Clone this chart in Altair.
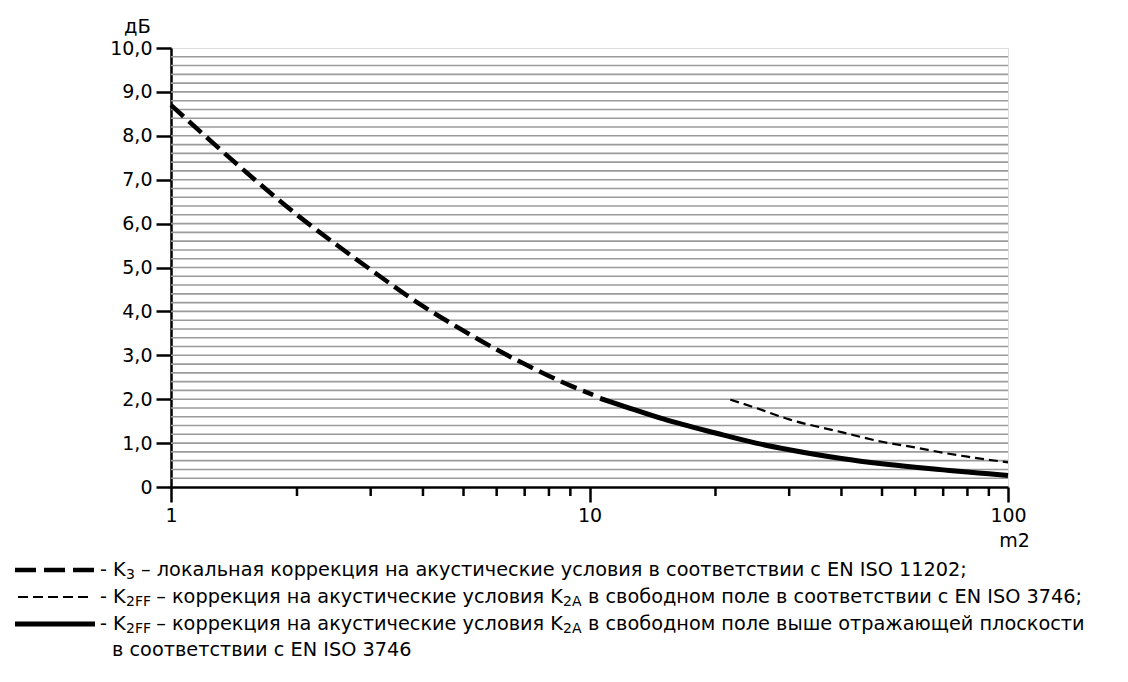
import altair as alt
import pandas as pd

# ---- data ----
# K3 (thick dashed)
k3_x = [1, 1.5, 2, 2.5, 3, 4, 5, 6, 7, 8, 9, 10.2]
k3_y = [8.70, 7.2, 6.2, 5.5, 4.95, 4.12, 3.56, 3.13, 2.8, 2.53, 2.31, 2.1]
# K2FF free field (thin dashed)
ff_x = [21.7, 25, 30, 40, 50, 60, 70, 80, 90, 100]
ff_y = [1.99, 1.80, 1.54, 1.25, 1.03, 0.90, 0.78, 0.69, 0.62, 0.56]
# K2FF above reflecting plane (solid)
rp_x = [10.6, 12, 15, 20, 25, 30, 40, 50, 60, 70, 80, 90, 100]
rp_y = [2.02, 1.85, 1.55, 1.23, 1.0, 0.85, 0.65, 0.53, 0.45, 0.39, 0.34, 0.30, 0.26]

y_ticks = [0, 1, 2, 3, 4, 5, 6, 7, 8, 9, 10]
grid_vals = [round(0.2 * i, 1) for i in range(1, 50)]
x_major = [1, 10, 100]
x_minor = [2, 3, 4, 5, 6, 7, 8, 9, 20, 30, 40, 50, 60, 70, 80, 90]

# legend text pieces: (text, is_subscript, page x, align)
legend_lines = [
    [("- K", False, 100, "left"), ("3", True, 126, "left"),
     ("– локальная коррекция на акустические условия в соответствии с EN ISO 11202;", False, 141, "left")],
    [("- K", False, 100, "left"), ("2FF", True, 126, "left"),
     ("– коррекция на акустические условия K", False, 563, "right"), ("2A", True, 563, "left"),
     ("в свободном поле в соответствии с EN ISO 3746;", False, 588, "left")],
    [("- K", False, 100, "left"), ("2FF", True, 126, "left"),
     ("– коррекция на акустические условия K", False, 563, "right"), ("2A", True, 563, "left"),
     ("в свободном поле выше отражающей плоскости", False, 588, "left")],
    [("в соответствии с EN ISO 3746", False, 112, "left")],
]

FONT = "DejaVu Sans"
W, H = 837, 439
OX, OY = 171, 48  # page position of plot origin

xscale = alt.Scale(type="log", domain=[1, 100])
yscale = alt.Scale(domain=[0, 10], nice=False)

grid_df = pd.DataFrame({"g": grid_vals})
grid = alt.Chart(grid_df).mark_rule(color="#9a9a9a", strokeWidth=1.6).encode(
    y=alt.Y("g:Q", scale=yscale,
            axis=alt.Axis(values=y_ticks, title="дБ", titleAngle=0, titleX=-34, titleY=-16,
                          titleAlign="center", titleBaseline="alphabetic", titleFont=FONT,
                          titleFontSize=19.5, titleFontWeight="normal", titleColor="black",
                          labelExpr="datum.value == 0 ? '0' : replace(format(datum.value, '.1f'), '.', ',')",
                          labelFont=FONT, labelFontSize=19, labelColor="black", labelPadding=4,
                          tickSize=15, tickWidth=2.5, tickColor="black", domainColor="black",
                          domainWidth=2.5, grid=False)),
)

k3_df = pd.DataFrame({"x": k3_x, "y": k3_y})
ff_df = pd.DataFrame({"x": ff_x, "y": ff_y})
rp_df = pd.DataFrame({"x": rp_x, "y": rp_y})

xaxis = alt.Axis(values=x_major, title="m2", titleX=W + 6, titleY=59, titleAlign="center",
                 titleBaseline="alphabetic", titleFont=FONT, titleFontSize=19,
                 titleFontWeight="normal", titleColor="black",
                 labelExpr="format(datum.value, 'd')", labelFont=FONT, labelFontSize=19,
                 labelColor="black", labelPadding=4, labelFlush=False,
                 tickSize=15, tickWidth=2.5, tickColor="black", domainColor="black",
                 domainWidth=2.5, grid=False)

k3 = alt.Chart(k3_df).mark_line(color="black", strokeWidth=4.5, strokeDash=[17, 7],
                                 interpolate="monotone").encode(
    x=alt.X("x:Q", scale=xscale, axis=xaxis), y=alt.Y("y:Q", scale=yscale))
ff = alt.Chart(ff_df).mark_line(color="black", strokeWidth=2.2, strokeDash=[9, 5],
                                 interpolate="monotone").encode(
    x=alt.X("x:Q", scale=xscale), y=alt.Y("y:Q", scale=yscale))
rp = alt.Chart(rp_df).mark_line(color="black", strokeWidth=5, interpolate="monotone").encode(
    x=alt.X("x:Q", scale=xscale), y=alt.Y("y:Q", scale=yscale))

minor_df = pd.DataFrame({"m": x_minor})
minor = alt.Chart(minor_df).mark_rule(color="black", strokeWidth=2.5).encode(
    x=alt.X("m:Q", scale=xscale), y=alt.value(H), y2=alt.value(H + 9))

layers = [grid, k3, ff, rp, minor]

# legend samples
LX0, LX1 = 15 - OX, 95 - OX
ly = [570 - OY, 597 - OY, 624 - OY, 650 - OY]
layers.append(alt.Chart().mark_rule(color="black", strokeWidth=4.5, strokeDash=[21, 8]).encode(
    x=alt.value(LX0), x2=alt.value(LX1 + 2), y=alt.value(ly[0])))
layers.append(alt.Chart().mark_rule(color="black", strokeWidth=1.8, strokeDash=[10, 5]).encode(
    x=alt.value(LX0 + 3), x2=alt.value(LX1 - 6), y=alt.value(ly[1])))
layers.append(alt.Chart().mark_rule(color="black", strokeWidth=5).encode(
    x=alt.value(LX0), x2=alt.value(LX1), y=alt.value(ly[2])))

MAIN, SUB = 19.3, 14
for i, segs in enumerate(legend_lines):
    for text, is_sub, px, al in segs:
        size = SUB if is_sub else MAIN
        yy = ly[i] + (5 if is_sub else 0)
        layers.append(alt.Chart().mark_text(text=text, font=FONT, fontSize=size, color="black",
                                            align=al, baseline="middle").encode(
            x=alt.value(px - OX), y=alt.value(yy)))

chart = alt.layer(*layers).properties(
    width=W, height=H,
    autosize=alt.AutoSizeParams(type="none"),
    padding={"left": OX - 8, "top": OY - 8, "right": 110, "bottom": 187},
).configure_view(stroke="black", strokeWidth=2.5).configure(background="white")

chart.save("out.html", embed_options={"renderer": "svg", "actions": False})
